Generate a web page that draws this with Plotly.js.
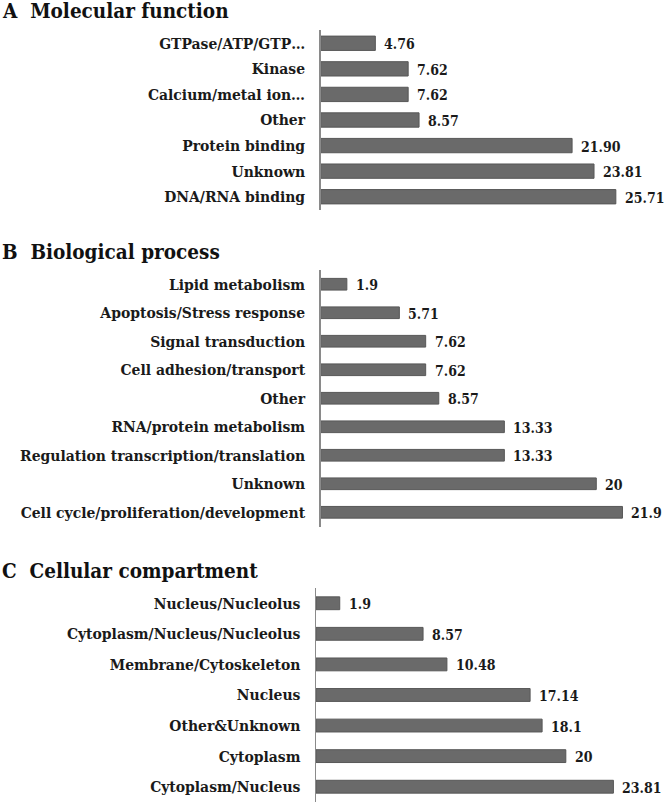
<!DOCTYPE html>
<html><head><meta charset="utf-8">
<script src="https://cdn.plot.ly/plotly-3.0.1.min.js"></script>
<style>html,body{margin:0;padding:0;background:#fff}#chart{width:666px;height:804px}</style>
</head><body><div id="chart"></div>
<script>
// Panel A: Molecular function
const mfCategories = ["GTPase/ATP/GTP\u2026", "Kinase", "Calcium/metal ion\u2026", "Other", "Protein binding", "Unknown", "DNA/RNA binding"];
const mfValues = [4.76, 7.62, 7.62, 8.57, 21.90, 23.81, 25.71];
const mfLabels = ["4.76", "7.62", "7.62", "8.57", "21.90", "23.81", "25.71"];
// Panel B: Biological process
const bpCategories = ["Lipid metabolism", "Apoptosis/Stress response", "Signal transduction", "Cell adhesion/transport", "Other", "RNA/protein metabolism", "Regulation transcription/translation", "Unknown", "Cell cycle/proliferation/development"];
const bpValues = [1.9, 5.71, 7.62, 7.62, 8.57, 13.33, 13.33, 20, 21.9];
const bpLabels = ["1.9", "5.71", "7.62", "7.62", "8.57", "13.33", "13.33", "20", "21.9"];
// Panel C: Cellular compartment
const ccCategories = ["Nucleus/Nucleolus", "Cytoplasm/Nucleus/Nucleolus", "Membrane/Cytoskeleton", "Nucleus", "Other&Unknown", "Cytoplasm", "Cytoplasm/Nucleus"];
const ccValues = [1.9, 8.57, 10.48, 17.14, 18.1, 20, 23.81];
const ccLabels = ["1.9", "8.57", "10.48", "17.14", "18.1", "20", "23.81"];
const panelTitles = ["A\u00a0\u00a0Molecular function", "B\u00a0\u00a0Biological process", "C\u00a0\u00a0Cellular compartment"];

const FONT = "DejaVu Serif Condensed, DejaVu Serif";
const BAR = "#6a6a6a";
const panels = [
  {cats: mfCategories, vals: mfValues, labs: mfLabels, xa: "x", ya: "y", w: 0.56},
  {cats: bpCategories, vals: bpValues, labs: bpLabels, xa: "x2", ya: "y2", w: 0.41},
  {cats: ccCategories, vals: ccValues, labs: ccLabels, xa: "x3", ya: "y3", w: 0.42}
];
const traces = panels.map(p => ({
  type: "bar", orientation: "h", x: p.vals, y: p.cats, xaxis: p.xa, yaxis: p.ya,
  width: p.w, marker: {color: BAR, line: {color: "#575757", width: 1}},
  hoverinfo: "x+y", showlegend: false
}));
const annotations = [];
panels.forEach(p => {
  p.vals.forEach((v, i) => annotations.push({
    xref: p.xa, yref: p.ya, x: v, y: p.cats[i], text: "<b>" + p.labs[i] + "</b>", showarrow: false,
    xanchor: "left", yanchor: "middle", xshift: 7, yshift: -1,
    font: {family: FONT, size: 14, color: "#1a1a1a"}
  }));
});
const titleY = [0.9863, 0.686, 0.2898];
panelTitles.forEach((t, i) => annotations.push({
  xref: "paper", yref: "paper", x: 0.0, y: titleY[i], text: "<b>" + t + "</b>", showarrow: false,
  xanchor: "left", yanchor: "middle",
  font: {family: FONT, size: 20.5, color: "#111"}
}));

function yax(n, dom) {
  return {type: "category", domain: dom, range: [n - 0.5, -0.5], showline: true,
    linecolor: "#8a8a8a", linewidth: 1.5, ticks: "", showgrid: false, zeroline: false,
    ticklabelstandoff: 11, tickfont: {family: FONT, size: 15.5, color: "#1a1a1a", weight: "bold"}, fixedrange: true};
}
function xax(dom, r, anchor) {
  return {domain: dom, range: r, showgrid: false, zeroline: false, showline: false,
    showticklabels: false, ticks: "", anchor: anchor, fixedrange: true};
}
const layout = {
  width: 666, height: 804, margin: {l: 0, r: 0, t: 0, b: 0},
  paper_bgcolor: "#fff", plot_bgcolor: "#fff",
  xaxis: xax([0.4815, 1], [0, 30.08], "y"),
  yaxis: yax(mfCategories.length, [0.7394, 0.9621]),
  xaxis2: xax([0.4815, 1], [0, 25.06], "y2"),
  yaxis2: Object.assign(yax(bpCategories.length, [0.3451, 0.6642]), {anchor: "x2"}),
  xaxis3: xax([0.4745, 1], [0, 28.02], "y3"),
  yaxis3: Object.assign(yax(ccCategories.length, [0.0025, 0.2687]), {anchor: "x3"}),
  annotations: annotations, bargap: 0.4
};
layout.yaxis.anchor = "x";
Plotly.newPlot("chart", traces, layout, {displayModeBar: false, staticPlot: true});
</script></body></html>
